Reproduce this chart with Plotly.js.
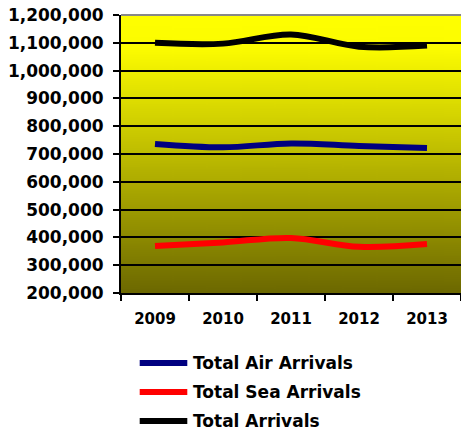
<!DOCTYPE html>
<html>
<head>
<meta charset="utf-8">
<script src="https://cdn.plot.ly/plotly-3.0.1.min.js"></script>
<style>html,body{margin:0;padding:0;background:#fff;}#chart{width:461px;height:435px;}</style>
</head>
<body>
<div id="chart"></div>
<script>
var years = ["2009", "2010", "2011", "2012", "2013"];
var seriesNames = ["Total Air Arrivals", "Total Sea Arrivals", "Total Arrivals"];
var airArrivals = [736000, 724000, 738000, 729000, 722000];
var seaArrivals = [369000, 382000, 398000, 366000, 376000];
var totalArrivals = [1100000, 1097000, 1130000, 1086000, 1090000];
var seriesColors = ["#000080", "#FF0000", "#000000"];
var seriesValues = [airArrivals, seaArrivals, totalArrivals];

// gradient background image
var cv = document.createElement('canvas');
cv.width = 10; cv.height = 300;
var ctx = cv.getContext('2d');
var g = ctx.createLinearGradient(0, 0, 0, 300);
g.addColorStop(0, '#FFFF00');
g.addColorStop(0.12, '#FCFC00');
g.addColorStop(1, '#6C6800');
ctx.fillStyle = g;
ctx.fillRect(0, 0, 10, 300);
var bgUrl = cv.toDataURL('image/png');

var font = "DejaVu Sans, Verdana, sans-serif";
var traces = seriesValues.map(function (vals, i) {
  return {
    type: 'scatter', mode: 'lines', x: years, y: vals, name: seriesNames[i],
    line: {color: seriesColors[i], width: 6, shape: 'spline', smoothing: 1},
    showlegend: false, hoverinfo: 'skip'
  };
});

var legendY = [-0.2518, -0.3561, -0.4604];
var shapes = [{type: 'line', xref: 'paper', yref: 'paper', x0: 0, x1: 1, y0: 1, y1: 1,
  line: {color: '#888888', width: 2}, layer: 'above'}];
var annotations = [];
seriesNames.forEach(function (n, i) {
  shapes.push({type: 'line', xref: 'paper', yref: 'paper', x0: 0.055, x1: 0.195,
    y0: legendY[i], y1: legendY[i], line: {color: seriesColors[i], width: 6}});
  annotations.push({xref: 'paper', yref: 'paper', x: 0.205, y: legendY[i], xanchor: 'left',
    yanchor: 'middle', text: n, showarrow: false,
    font: {family: font, size: 17, color: '#000', weight: 'bold'}});
});

var layout = {
  width: 461, height: 435,
  margin: {l: 121, r: 0, t: 15, b: 142, pad: 0},
  paper_bgcolor: '#FFFFFF', plot_bgcolor: 'rgba(0,0,0,0)',
  showlegend: false,
  images: [{source: bgUrl, xref: 'paper', yref: 'paper', x: 0, y: 1, sizex: 1, sizey: 1,
    sizing: 'stretch', xanchor: 'left', yanchor: 'top', layer: 'below'}],
  xaxis: {
    type: 'category', range: [-0.5, 4.5], tickson: 'boundaries',
    ticks: 'outside', ticklen: 6, tickwidth: 2, tickcolor: '#000',
    showline: true, linecolor: '#000', linewidth: 2, showgrid: false, zeroline: false,
    ticklabelstandoff: 11,
    tickfont: {family: font, size: 15, color: '#000', weight: 'bold'}
  },
  yaxis: {
    range: [200000, 1200000], dtick: 100000, tick0: 200000, tickformat: ',d',
    ticks: 'outside', ticklen: 6, tickwidth: 2, tickcolor: '#000',
    showline: true, linecolor: '#000', linewidth: 2,
    showgrid: true, gridcolor: '#000', gridwidth: 2, zeroline: false,
    ticklabelstandoff: 6,
    tickfont: {family: font, size: 17, color: '#000', weight: 'bold'}
  },
  shapes: shapes,
  annotations: annotations
};

Plotly.newPlot('chart', traces, layout, {displayModeBar: false, staticPlot: true});
</script>
</body>
</html>
